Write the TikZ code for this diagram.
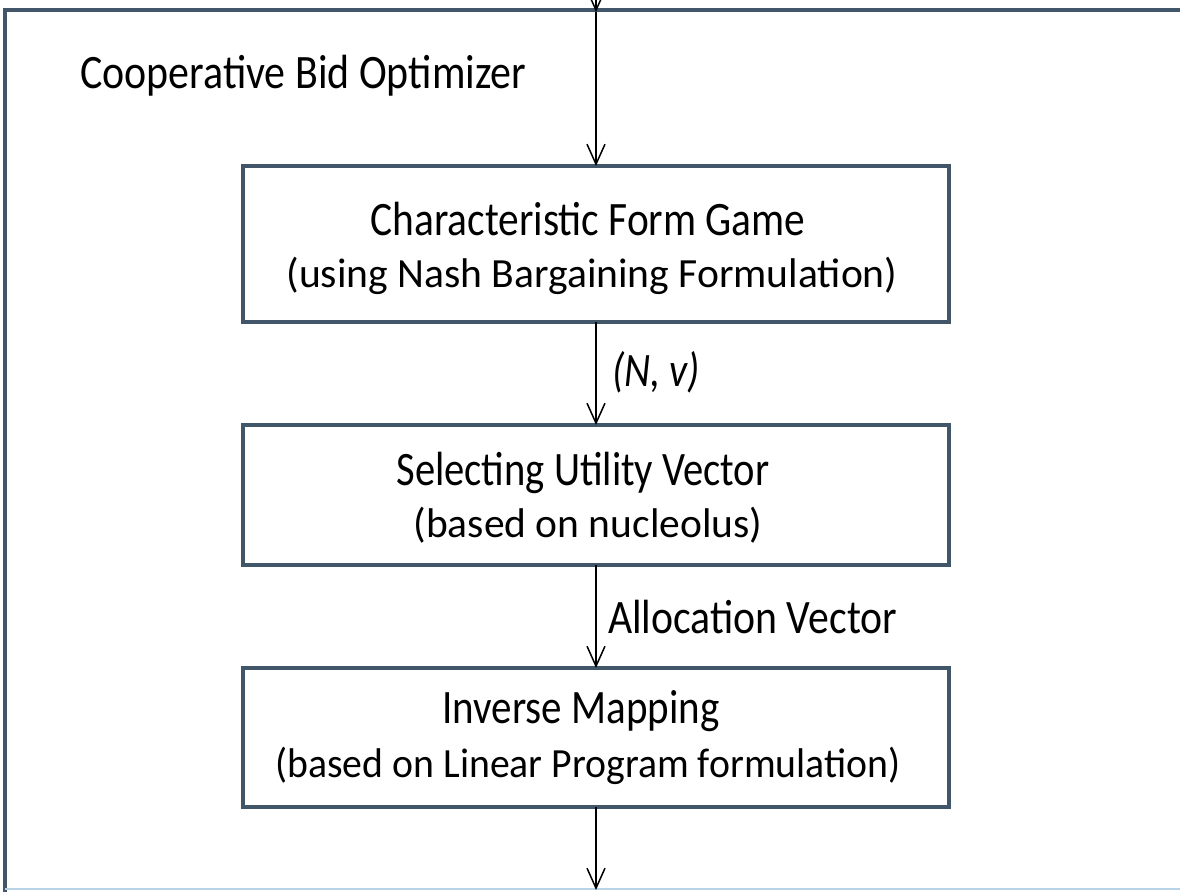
\documentclass[tikz,border=0pt]{standalone}
\usepackage{fontspec}
\usepackage{graphicx}
\setmainfont{Carlito}
\usetikzlibrary{arrows.meta}
\definecolor{frame}{HTML}{425669}
\definecolor{lightframe}{HTML}{B9D3E6}
\tikzset{
  stepbox/.style={draw=frame, line width=4pt, fill=white, inner sep=0pt},
  title/.style={font=\fontsize{48}{52}\selectfont, inner sep=0pt, anchor=base},
  sub/.style={font=\fontsize{41.5}{46}\selectfont, inner sep=0pt, anchor=base},
  lbl/.style={font=\fontsize{48}{52}\selectfont, inner sep=0pt, anchor=base west},
  flow/.style={draw=black, line width=1.5pt, -{Straight Barb[length=20pt,width=18pt,line width=1.5pt]}},
}
\newcommand{\fitw}[2]{\resizebox{#1pt}{\height}{#2}}
\begin{document}
\begin{tikzpicture}[x=1pt,y=-1pt]
\useasboundingbox (0,0) rectangle (1180,892);
\clip (0,0) rectangle (1180,892);
\fill[white] (0,0) rectangle (1180,892);
% outer frame
\draw[frame, line width=4pt] (5,892) -- (5,10) -- (1185,10);
\draw[lightframe, line width=2pt] (5,889) -- (1185,889);
\node[lbl] (outer) at (80,88) {\fitw{446}{Cooperative Bid Optimizer}};
% boxes
\path[stepbox] (243,166) rectangle (949,322);
\path[stepbox] (243,425) rectangle (949,565);
\path[stepbox] (243,668) rectangle (949,807);
\coordinate (b1t) at (596,166);
\coordinate (b1b) at (596,322);
\coordinate (b2t) at (596,425);
\coordinate (b2b) at (596,565);
\coordinate (b3t) at (596,668);
\coordinate (b3b) at (596,807);
\node[title] (t1) at (588,235) {\fitw{435}{Characteristic Form Game}};
\node[sub] (s1) at (592,287) {\fitw{611}{(using Nash Bargaining Formulation)}};
\node[title] (t2) at (583,485) {\fitw{373}{Selecting Utility Vector}};
\node[sub] (s2) at (588,537) {\fitw{349}{(based on nucleolus)}};
\node[title] (t3) at (581,723) {\fitw{277}{Inverse Mapping}};
\node[sub] (s3) at (588,777) {\fitw{625}{(based on Linear Program formulation)}};
% connectors
\coordinate (in0) at (596,-30);
\coordinate (fr) at (596,12);
\coordinate (out) at (596,890);
\draw[flow] (in0) -- (fr);
\draw[flow] (fr) -- (b1t);
\draw[flow] (b1b) -- (b2t);
\draw[flow] (b2b) -- (b3t);
\draw[flow] (b3b) -- (out);
\node[lbl] (nv) at (612,386) {\fitw{88}{\itshape (N, v)}};
\node[lbl] (av) at (608,633) {\fitw{289}{Allocation Vector}};
\end{tikzpicture}
\end{document}
